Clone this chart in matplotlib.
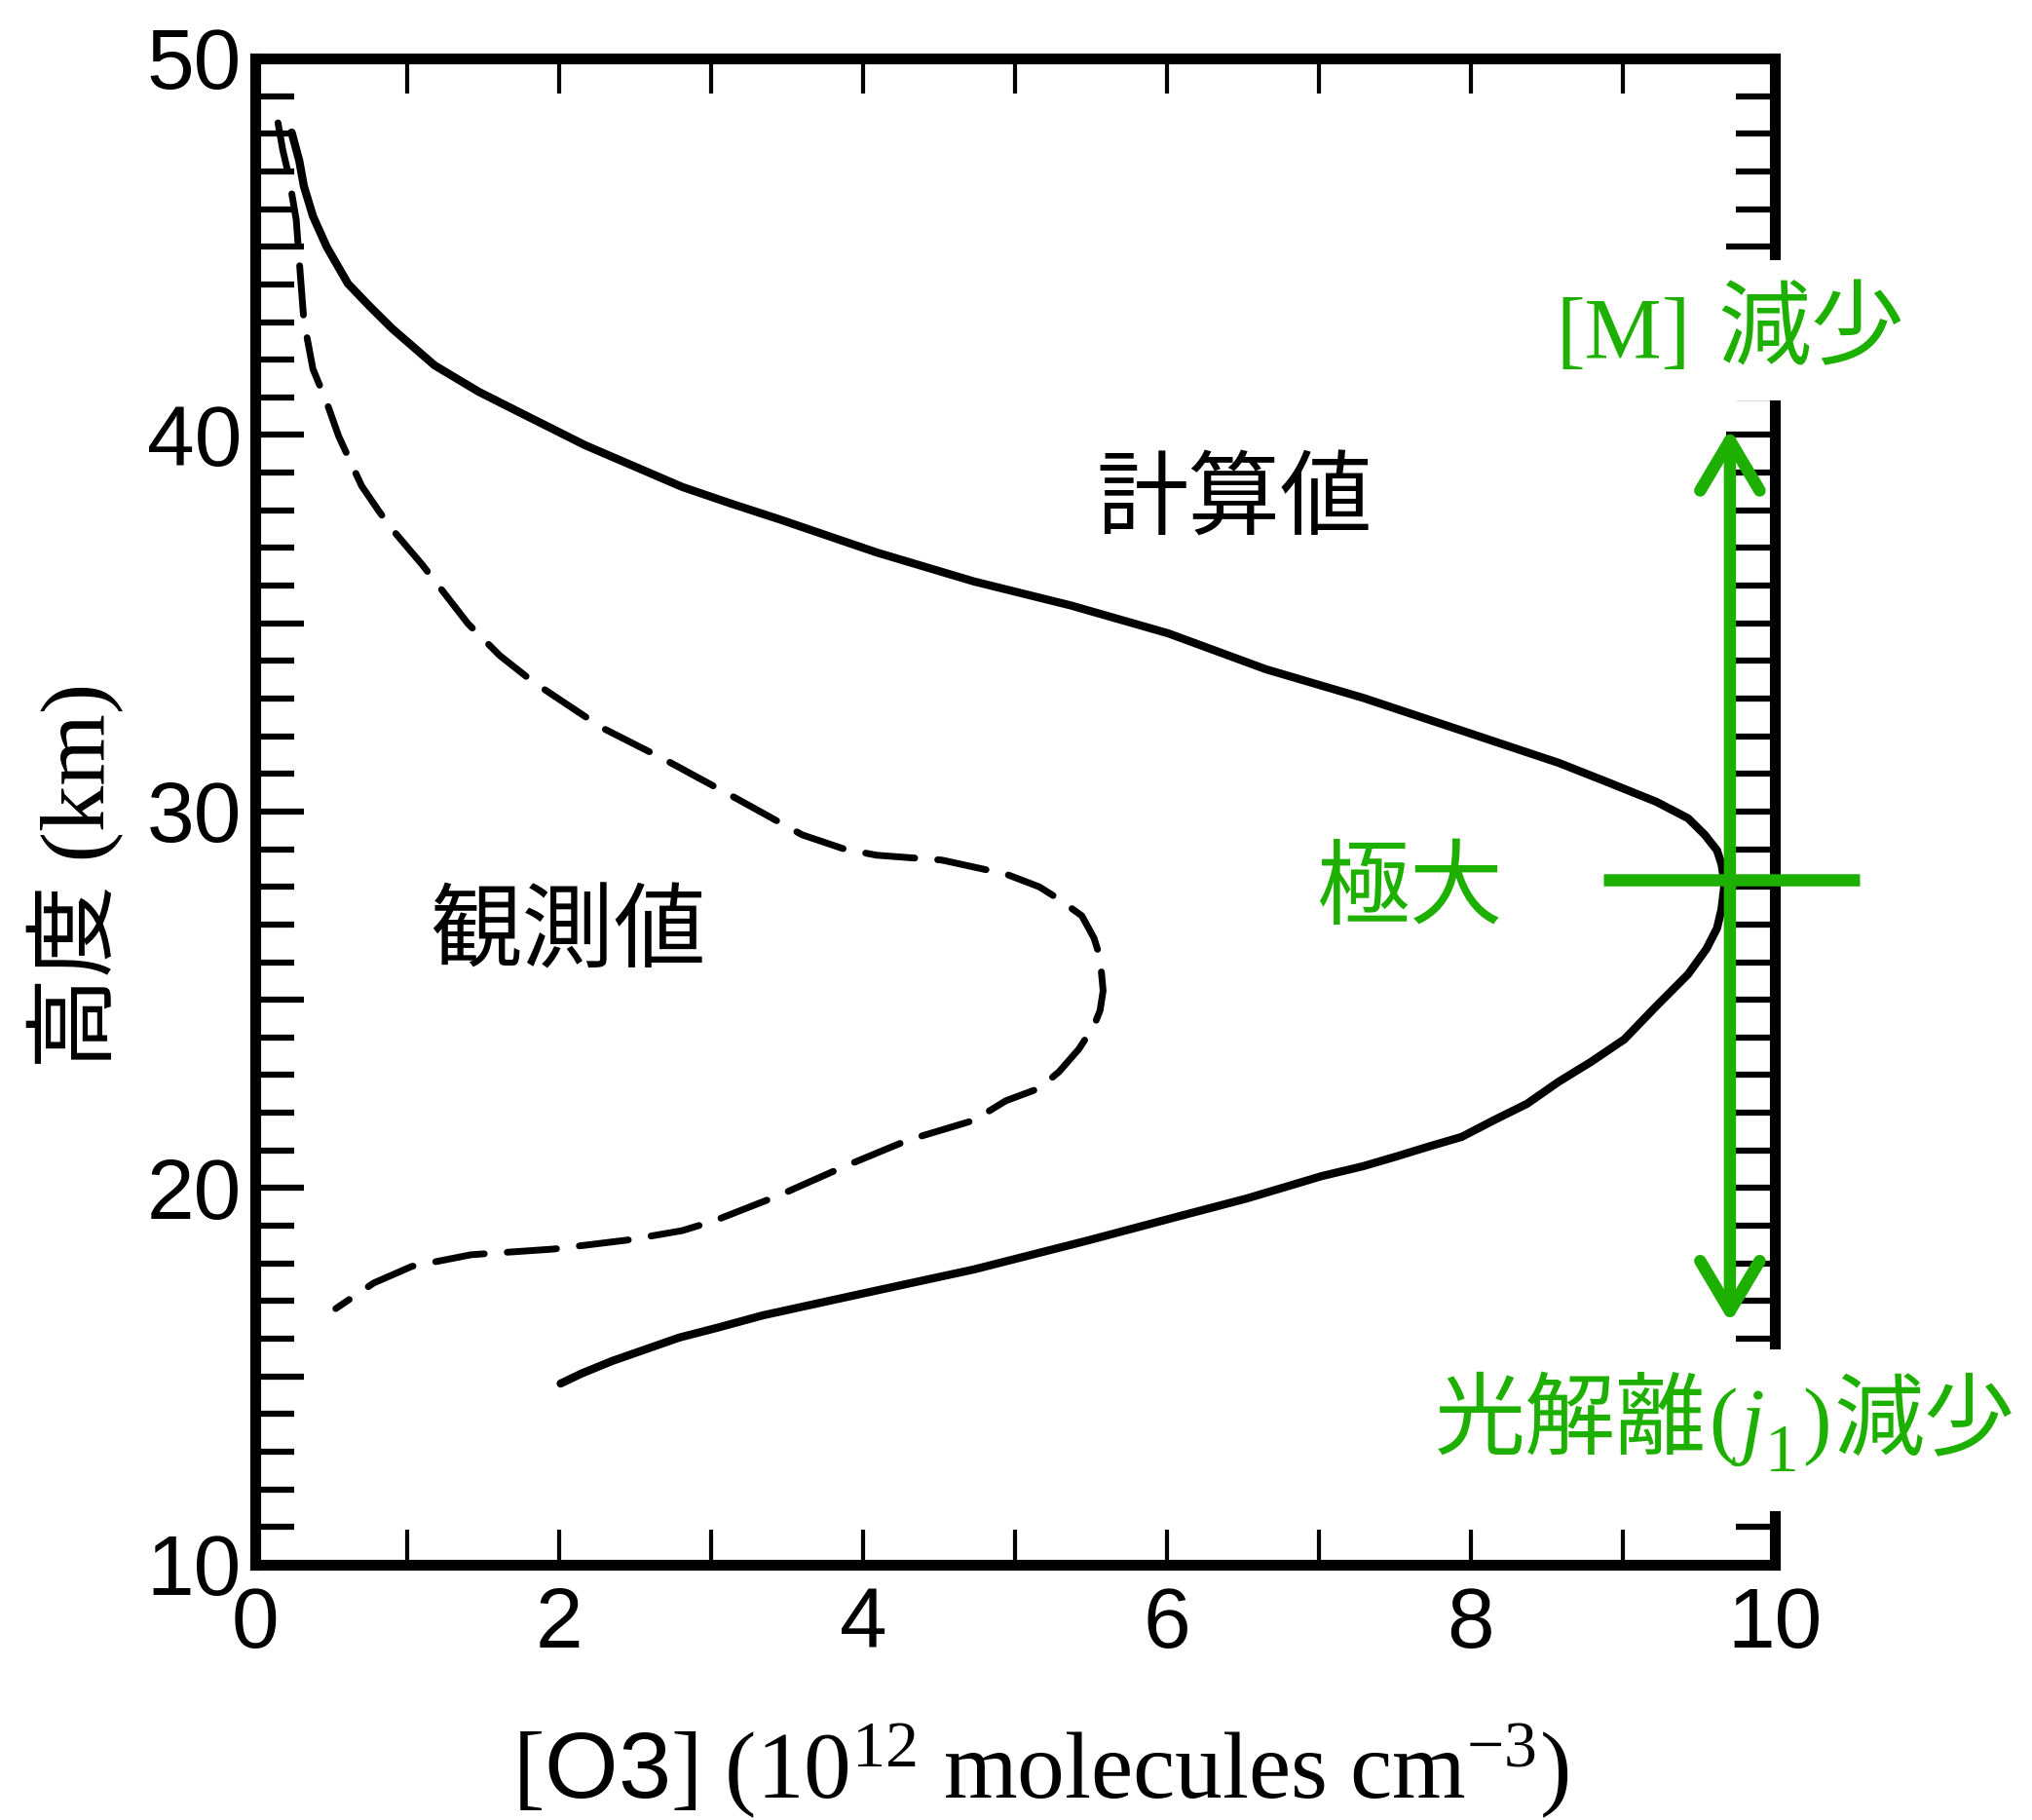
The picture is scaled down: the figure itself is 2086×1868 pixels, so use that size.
import matplotlib
matplotlib.use('Agg')
import matplotlib.pyplot as plt
from matplotlib.ticker import MultipleLocator, FuncFormatter, FixedLocator
from matplotlib.patches import Rectangle

plt.rcParams['mathtext.fontset'] = 'custom'
plt.rcParams['mathtext.rm'] = 'Liberation Serif'
plt.rcParams['mathtext.it'] = 'Liberation Serif:italic'
plt.rcParams['mathtext.sf'] = 'Liberation Sans'
plt.rcParams['font.family'] = ['Liberation Sans', 'Noto Sans CJK JP']

# ---- data: computed (solid) profile ----
calc_x = [0.24, 0.29, 0.32, 0.38, 0.47, 0.61, 0.75, 0.90, 1.18, 1.47, 1.76, 2.17,
          2.81, 3.13, 3.45, 4.09, 4.73, 5.37, 6.01, 6.65, 7.29, 7.94, 8.58, 8.90,
          9.22, 9.43, 9.54, 9.62, 9.65, 9.67, 9.65, 9.62, 9.55, 9.43, 9.22, 9.01, 8.79,
          8.58, 8.37, 8.15, 7.94, 7.72, 7.51, 7.29, 7.02, 6.53, 6.04, 5.49, 4.73,
          4.02, 3.34, 3.04, 2.79, 2.35, 2.15, 2.01]
calc_y = [48.03, 47.28, 46.61, 45.81, 45.00, 44.02, 43.43, 42.83, 41.85, 41.15, 40.56, 39.73,
          38.62, 38.18, 37.76, 36.88, 36.11, 35.47, 34.73, 33.78, 33.02, 32.15, 31.29, 30.78,
          30.26, 29.82, 29.38, 28.97, 28.60, 28.09, 27.41, 26.90, 26.35, 25.68, 24.83, 23.95, 23.35,
          22.83, 22.24, 21.80, 21.36, 21.10, 20.84, 20.58, 20.32, 19.73, 19.21, 18.62, 17.84,
          17.22, 16.62, 16.29, 16.03, 15.41, 15.08, 14.81]

# ---- data: observed (dashed) profile ----
obs_x = [0.15, 0.18, 0.22, 0.27, 0.29, 0.32, 0.38, 0.47, 0.55, 0.70, 0.81, 0.90,
         1.10, 1.40, 1.61, 1.83, 2.28, 2.70, 3.17, 3.60, 3.88, 4.09, 4.52, 4.94,
         5.16, 5.29, 5.44, 5.52, 5.56, 5.58, 5.56, 5.52, 5.42, 5.29, 5.16, 4.94,
         4.73, 4.30, 3.88, 3.45, 3.02, 2.81, 2.45, 1.96, 1.42, 1.03, 0.78, 0.53]
obs_y = [48.29, 47.59, 46.90, 45.71, 44.62, 43.04, 41.75, 40.87, 39.96, 38.65, 38.00, 37.50,
         36.55, 34.99, 34.14, 33.44, 32.23, 31.37, 30.34, 29.38, 29.00, 28.84, 28.71, 28.34,
         28.00, 27.67, 27.23, 26.64, 26.12, 25.24, 24.72, 24.31, 23.69, 23.09, 22.65, 22.32,
         21.80, 21.28, 20.58, 19.81, 19.13, 18.87, 18.62, 18.38, 18.23, 17.92, 17.48, 16.80]

x_ticks = [0, 2, 4, 6, 8, 10]
y_ticks = [10, 20, 30, 40, 50]

# annotation geometry (data units)
arrow_x = 9.705
arrow_y = [16.42, 40.17]
max_y = 28.19
max_line_x = [8.87, 10.56]

GREEN = '#1eb000'
CJK = ['Noto Sans CJK JP']
SERIF = ['Liberation Serif']

fig = plt.figure(figsize=(20.86, 18.68), dpi=100)
ax = fig.add_axes([0.1256, 0.1403, 0.7478, 0.8276])
ax.set_xlim(0, 10)
ax.set_ylim(10, 50)

ax.plot(calc_x, calc_y, color='black', lw=6, solid_capstyle='round',
        solid_joinstyle='round', zorder=3)
ax.plot(obs_x, obs_y, color='black', lw=5, dashes=(7.3, 3.4),
        dash_capstyle='round', dash_joinstyle='round', zorder=3)

for s in ax.spines.values():
    s.set_linewidth(8)

ax.xaxis.set_major_locator(FixedLocator(x_ticks))
ax.xaxis.set_minor_locator(MultipleLocator(1))
ax.yaxis.set_major_locator(MultipleLocator(5))
ax.yaxis.set_minor_locator(MultipleLocator(1))
ax.yaxis.set_major_formatter(FuncFormatter(
    lambda v, p: f'{int(v)}' if int(round(v)) in y_ticks else ''))

ax.tick_params(axis='x', which='both', direction='in', top=True, bottom=True,
               length=26, width=3, labelsize=63, pad=16)
ax.tick_params(axis='y', which='major', direction='in', left=True, right=True,
               length=36, width=4.5, labelsize=63, pad=10)
ax.tick_params(axis='y', which='minor', direction='in', left=True, right=True,
               length=29, width=4.5)
for lab in ax.get_xticklabels() + ax.get_yticklabels():
    lab.set_fontfamily('Liberation Sans')

# green markers
ax.annotate('', xy=(arrow_x, arrow_y[1]), xytext=(arrow_x, arrow_y[0]),
            arrowprops=dict(arrowstyle='<->,head_length=3.7,head_width=2.2',
                            color=GREEN, lw=9, shrinkA=0, shrinkB=0,
                            mutation_scale=10),
            annotation_clip=False, zorder=4)
ax.plot(max_line_x, [max_y, max_y], color=GREEN, lw=9, clip_on=False, zorder=4,
        solid_capstyle='butt')

fig.text(0.6074, 0.7104, '計算値', family=CJK, fontsize=68, ha='center', va='baseline')
fig.text(0.2795, 0.4722, '観測値', family=CJK, fontsize=68, ha='center', va='baseline')
fig.text(0.6937, 0.4963, '極大', family=CJK, fontsize=69, ha='center', va='baseline',
         color=GREEN)

renderer = fig.canvas.get_renderer()
W, H = fig.bbox.width, fig.bbox.height


def draw_pieces(x0, yb, pieces, pad_px):
    """Lay out text pieces left to right; cover them with a white box."""
    xcur = x0 * W
    exts = []
    for txt, fam, size, style, dy, gap in pieces:
        xcur += gap
        t = fig.text(xcur / W, yb + dy / H, txt, family=fam, fontsize=size,
                     style=style, ha='left', va='baseline', color=GREEN, zorder=6)
        e = t.get_window_extent(renderer)
        exts.append(e)
        xcur = e.x1
    xmin = min(e.x0 for e in exts); xmax = max(e.x1 for e in exts)
    ymin = min(e.y0 for e in exts); ymax = max(e.y1 for e in exts)
    fig.add_artist(Rectangle(((xmin - pad_px) / W, (ymin - pad_px) / H),
                             (xmax - xmin + 2 * pad_px) / W,
                             (ymax - ymin + 2 * pad_px) / H,
                             transform=fig.transFigure, facecolor='white',
                             edgecolor='none', zorder=5))


draw_pieces(0.7656, 0.8036, [
    ('[M]', SERIF, 64, 'normal', 0, 0),
    ('減少', CJK, 69, 'normal', 0, 28),
], 22)

draw_pieces(0.7061, 0.2045, [
    ('光解離', CJK, 67, 'normal', 0, 0),
    ('(', SERIF, 64, 'normal', 0, 2),
    ('j', SERIF, 64, 'italic', 0, 3),
    ('1', SERIF, 50, 'normal', -24, 1),
    (')', SERIF, 64, 'normal', 0, 3),
    ('減少', CJK, 67, 'normal', 0, 3),
], 26)

fig.text(0.037, 0.519, '高度 (km)', family=['Liberation Serif', 'Noto Sans CJK JP'],
         fontsize=68, rotation=90, ha='center', va='center')
fig.text(0.512, 0.027,
         r'$\mathrm{[}\mathsf{O3}\mathrm{]\ (10^{12}\ molecules\ cm^{-3})}$',
         fontsize=70, ha='center', va='center')

fig.savefig('out.png', dpi=100, facecolor='white')
